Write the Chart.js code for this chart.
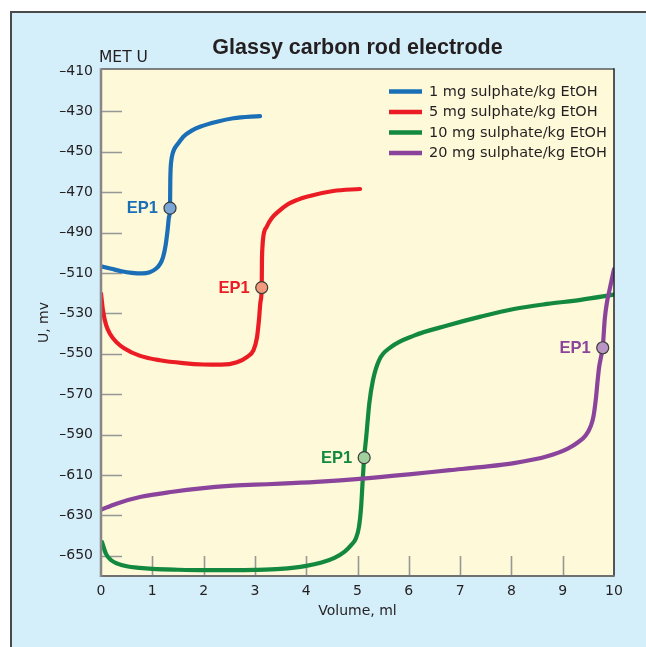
<!DOCTYPE html>
<html>
<head>
<meta charset="utf-8">
<title>Glassy carbon rod electrode</title>
<script src="https://cdn.jsdelivr.net/npm/chart.js@4.4.1/dist/chart.umd.min.js"></script>
<style>
  html, body { margin: 0; padding: 0; background: #ffffff; }
  canvas { display: block; }
</style>
</head>
<body>
<canvas id="titration" width="646" height="647"></canvas>
<script>
// Titration curves: electrode potential U (mV) against titrant volume (ml)
const seriesLabels = [
  '1 mg sulphate/kg EtOH',
  '5 mg sulphate/kg EtOH',
  '10 mg sulphate/kg EtOH',
  '20 mg sulphate/kg EtOH'
];

const volume1 = [0, 0.2, 0.4, 0.6, 0.8, 0.95, 1.07, 1.15, 1.21, 1.26, 1.3, 1.325, 1.345, 1.351, 1.358, 1.372, 1.394, 1.429, 1.507, 1.604, 1.768, 1.93, 2.26, 2.58, 3.1];
const potential1 = [-506.7, -507.9, -509.1, -509.9, -510.2, -509.6, -507.9, -505.6, -502.1, -496.2, -488.3, -482.3, -477.9, -464.0, -458.0, -454.1, -451.1, -448.6, -445.8, -442.5, -439.5, -437.6, -435.1, -433.4, -432.3];

const volume2 = [0, 0.04, 0.1, 0.18, 0.3, 0.45, 0.75, 1.15, 1.6, 2.0, 2.35, 2.65, 2.85, 2.97, 3.04, 3.08, 3.11, 3.133, 3.137, 3.146, 3.164, 3.23, 3.327, 3.456, 3.62, 3.815, 4.01, 4.528, 5.05];
const potential2 = [-520.2, -528.9, -535.8, -540.3, -544.2, -547.2, -550.9, -553.2, -554.6, -555.3, -555.4, -554.2, -551.5, -548.3, -542.0, -533.0, -524.0, -517.2, -504.6, -497.6, -492.0, -487.1, -482.9, -479.6, -476.3, -473.9, -472.2, -469.4, -468.4];

const volume3 = [0.02, 0.1, 0.2, 0.32, 0.5, 0.75, 1.0, 1.5, 2.0, 2.5, 3.0, 3.5, 4.0, 4.3, 4.55, 4.75, 4.88, 4.97, 5.03, 5.07, 5.1, 5.13, 5.17, 5.23, 5.3, 5.42, 5.65, 6.1, 6.75, 7.4, 8.05, 8.7, 9.35, 10];
const potential3 = [-643.3, -649.2, -652.2, -653.9, -655.2, -656.0, -656.5, -656.9, -657.1, -657.1, -657.0, -656.5, -655.0, -653.3, -651.0, -647.9, -644.6, -641.3, -635.5, -626.0, -613.1, -601.4, -591.2, -574.6, -563.2, -553.2, -546.7, -541.0, -536.0, -531.6, -527.8, -525.3, -523.3, -520.7];

const volume4 = [0, 0.3, 0.78, 1.4, 1.95, 2.5, 3.0, 3.5, 4.2, 5.1, 6.0, 6.8, 7.4, 8.05, 8.7, 9.1, 9.3, 9.45, 9.55, 9.6, 9.65, 9.68, 9.71, 9.75, 9.78, 9.82, 9.86, 9.91, 10];
const potential4 = [-627.2, -624.2, -620.8, -618.3, -616.6, -615.4, -614.8, -614.3, -613.4, -611.8, -609.7, -607.6, -606.1, -604.1, -600.7, -596.9, -593.8, -590.3, -585.6, -581.0, -571.5, -563.5, -556.6, -551.2, -547.0, -532.8, -524.9, -518.7, -508.1];

// End points (EP1) of each titration
const ep1Volume = [1.345, 3.133, 5.13, 9.78];
const ep1Potential = [-477.9, -517.2, -601.4, -547.0];
const ep1Text = 'EP1';

const yTickValues = [-410, -430, -450, -470, -490, -510, -530, -550, -570, -590, -610, -630, -650];
const xTickValues = [0, 1, 2, 3, 4, 5, 6, 7, 8, 9, 10];

const chartTitle = 'Glassy carbon rod electrode';
const unitCaption = 'MET U';
const xAxisTitle = 'Volume, ml';
const yAxisTitle = 'U, mv';

// Styling
const lineColors = ['#1b6fb7', '#ec1c24', '#13893f', '#8b449b'];
const markerFills = ['#7ba7d8', '#f29b7c', '#9fd09d', '#b995c6'];
const textColor = '#231f20';
const regularFont = '"DejaVu Sans", sans-serif';
const boldFont = '"Liberation Sans", Arial, sans-serif';

const toPoints = (xs, ys) => xs.map((x, i) => ({ x: x, y: ys[i] }));
const curves = [[volume1, potential1], [volume2, potential2], [volume3, potential3], [volume4, potential4]];

const datasets = [];
curves.forEach(([xs, ys], i) => {
  datasets.push({
    label: seriesLabels[i],
    data: toPoints(xs, ys),
    showLine: true,
    borderColor: lineColors[i],
    backgroundColor: lineColors[i],
    borderWidth: 4.2,
    borderCapStyle: 'round',
    borderJoinStyle: 'round',
    pointRadius: 0,
    pointHoverRadius: 0,
    cubicInterpolationMode: 'monotone',
    fill: false,
    order: 4 - i
  });
});
ep1Volume.forEach((v, i) => {
  datasets.push({
    label: ep1Text,
    isEndPoint: true,
    seriesIndex: i,
    data: [{ x: v, y: ep1Potential[i] }],
    showLine: false,
    pointRadius: 6,
    pointHoverRadius: 6,
    pointBackgroundColor: markerFills[i],
    pointBorderColor: '#3b3b3b',
    pointBorderWidth: 1.2,
    order: 0
  });
});

// Panel background, plot background and inner tick marks
const backdrop = {
  id: 'backdrop',
  beforeDraw(chart) {
    const { ctx, chartArea: a, width, height } = chart;
    ctx.save();
    ctx.fillStyle = '#ffffff';
    ctx.fillRect(0, 0, width, height);
    ctx.fillStyle = '#d4eefa';
    ctx.fillRect(11, 12, width - 11, height - 12);
    ctx.strokeStyle = '#4a4a4a';
    ctx.lineWidth = 2;
    ctx.beginPath();
    ctx.moveTo(11, height);
    ctx.lineTo(11, 12);
    ctx.lineTo(width, 12);
    ctx.stroke();
    ctx.fillStyle = '#fdf9d9';
    ctx.fillRect(a.left, a.top, a.right - a.left, a.bottom - a.top);
    ctx.restore();
  },
  beforeDatasetsDraw(chart) {
    const { ctx, chartArea: a, scales } = chart;
    ctx.save();
    ctx.strokeStyle = '#979797';
    ctx.lineWidth = 1.6;
    ctx.beginPath();
    yTickValues.forEach(v => {
      const y = Math.round(scales.y.getPixelForValue(v)) + 0.5;
      if (y - a.top < 4 || a.bottom - y < 4) return;
      ctx.moveTo(a.left, y);
      ctx.lineTo(a.left + 21, y);
    });
    xTickValues.forEach(v => {
      const x = Math.round(scales.x.getPixelForValue(v)) + 0.5;
      if (x - a.left < 4 || a.right - x < 4) return;
      ctx.moveTo(x, a.bottom);
      ctx.lineTo(x, a.bottom - 20);
    });
    ctx.stroke();
    ctx.restore();
  }
};

// Plot frame, legend, EP1 labels and headings
const overlay = {
  id: 'overlay',
  afterDatasetsDraw(chart) {
    const { ctx, chartArea: a } = chart;
    ctx.save();
    // frame
    ctx.lineCap = 'butt';
    ctx.strokeStyle = '#5a5a5a';
    ctx.lineWidth = 1.5;
    ctx.beginPath(); ctx.moveTo(a.left, a.top); ctx.lineTo(a.right, a.top); ctx.stroke();
    ctx.strokeStyle = '#222222';
    ctx.beginPath(); ctx.moveTo(a.right, a.top - 0.75); ctx.lineTo(a.right, a.bottom); ctx.stroke();
    ctx.strokeStyle = '#707070';
    ctx.lineWidth = 2;
    ctx.beginPath(); ctx.moveTo(a.left - 1, a.bottom); ctx.lineTo(a.right + 0.75, a.bottom); ctx.stroke();
    ctx.strokeStyle = '#878787';
    ctx.lineWidth = 2.5;
    ctx.beginPath(); ctx.moveTo(a.left, a.top - 0.75); ctx.lineTo(a.left, a.bottom + 1); ctx.stroke();

    // legend
    const lx = a.right - 225;
    const ly = a.top + 22.5;
    ctx.font = '14.5px ' + regularFont;
    ctx.textAlign = 'left';
    ctx.textBaseline = 'middle';
    chart.data.datasets.filter(d => !d.isEndPoint).forEach((d, i) => {
      const y = ly + i * 20.5;
      ctx.strokeStyle = d.borderColor;
      ctx.lineWidth = 4.5;
      ctx.beginPath(); ctx.moveTo(lx, y); ctx.lineTo(lx + 33, y); ctx.stroke();
      ctx.fillStyle = textColor;
      ctx.fillText(d.label, lx + 40, y + 0.5);
    });

    // EP1 labels beside the end-point markers
    ctx.font = 'bold 16.5px ' + boldFont;
    ctx.textAlign = 'right';
    chart.data.datasets.forEach((d, di) => {
      if (!d.isEndPoint) return;
      const pt = chart.getDatasetMeta(di).data[0];
      ctx.fillStyle = lineColors[d.seriesIndex];
      ctx.fillText(d.label, pt.x - 12, pt.y + 0.5);
    });
    ctx.restore();
  },
  afterDraw(chart) {
    const { ctx, chartArea: a } = chart;
    ctx.save();
    ctx.fillStyle = textColor;
    ctx.textBaseline = 'alphabetic';
    ctx.textAlign = 'center';
    ctx.font = 'bold 21.5px ' + boldFont;
    ctx.fillText(chartTitle, (a.left + a.right) / 2, 54);
    ctx.textAlign = 'left';
    ctx.font = '15.5px ' + regularFont;
    ctx.fillText(unitCaption, a.left - 2, 61.5);
    ctx.restore();
  }
};

new Chart(document.getElementById('titration'), {
  type: 'scatter',
  data: { datasets: datasets },
  options: {
    responsive: false,
    devicePixelRatio: 1,
    animation: false,
    events: [],
    layout: { padding: { top: 69, right: 32, bottom: 0, left: 0 } },
    plugins: {
      legend: { display: false },
      tooltip: { enabled: false },
      title: { display: false }
    },
    scales: {
      x: {
        type: 'linear',
        min: 0,
        max: 10,
        afterBuildTicks: s => { s.ticks = xTickValues.map(v => ({ value: v })); },
        afterFit: s => { s.height = 71; },
        grid: { display: false, drawTicks: false },
        border: { display: false },
        ticks: {
          padding: 7,
          color: textColor,
          font: { family: regularFont, size: 14 },
          maxRotation: 0,
          autoSkip: false
        },
        title: {
          display: true,
          text: xAxisTitle,
          color: textColor,
          font: { family: regularFont, size: 14 },
          padding: { top: 0, bottom: 27.6 }
        }
      },
      y: {
        type: 'linear',
        min: -660,
        max: -409,
        afterBuildTicks: s => { s.ticks = yTickValues.map(v => ({ value: v })); },
        afterFit: s => { s.width = 101; },
        grid: { display: false, drawTicks: false },
        border: { display: false },
        ticks: {
          padding: 8,
          color: textColor,
          font: { family: regularFont, size: 14 },
          autoSkip: false,
          callback: v => (v < 0 ? '\u2013' + Math.abs(v) : String(v))
        },
        title: {
          display: true,
          text: yAxisTitle,
          color: textColor,
          font: { family: regularFont, size: 14 },
          padding: { top: 35.6, bottom: 0 }
        }
      }
    }
  },
  plugins: [backdrop, overlay]
});
</script>
</body>
</html>
